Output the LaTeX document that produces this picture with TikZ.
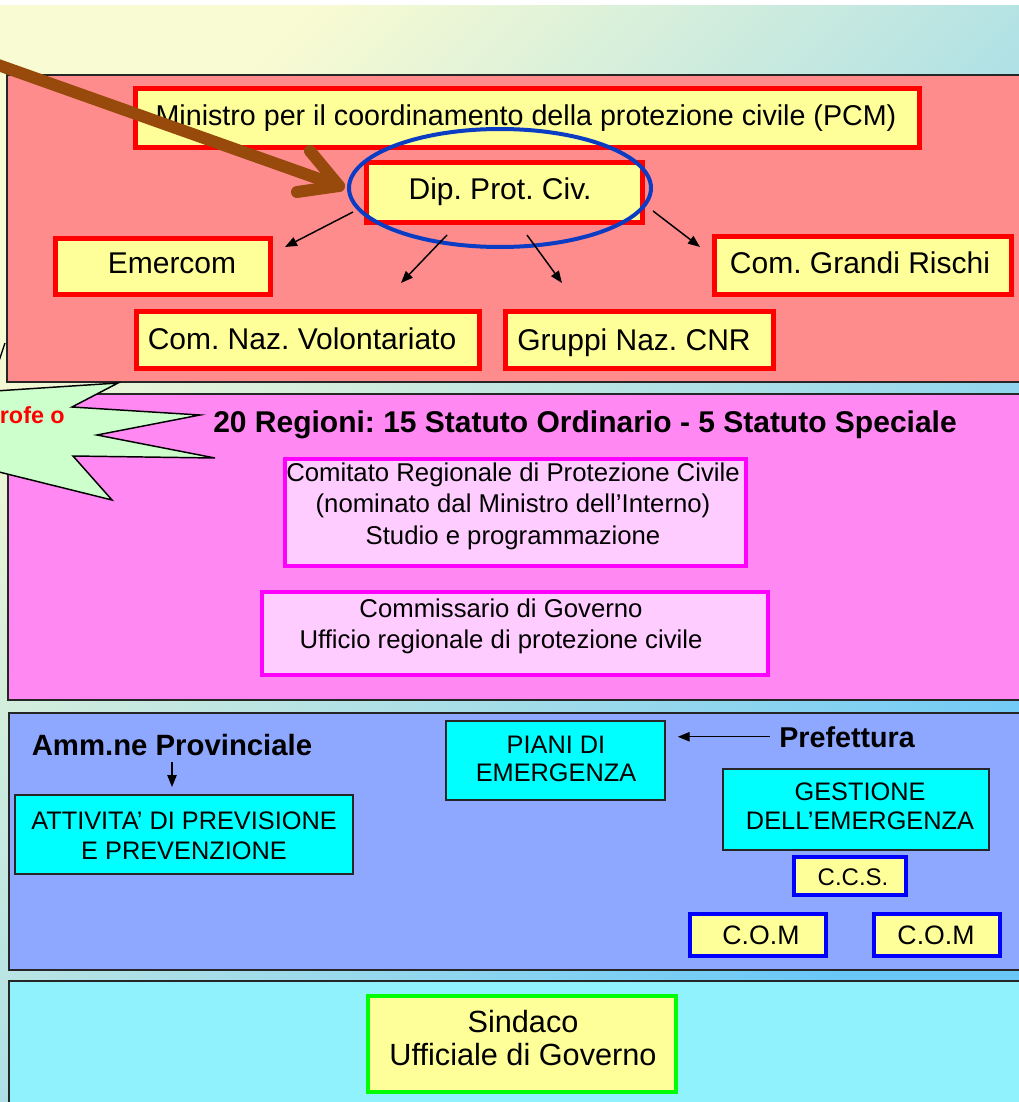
\documentclass[tikz,border=0pt]{standalone}
\usepackage{fontspec}
\setmainfont{Liberation Sans}
\usetikzlibrary{shapes.geometric,arrows.meta,fit}

\definecolor{bgTL}{HTML}{F9FBD2}
\definecolor{bgMid}{HTML}{BCE2E6}
\definecolor{bgBR}{HTML}{6AC8F8}
\definecolor{tierA}{HTML}{FF8C8C}
\definecolor{tierB}{HTML}{FF88F2}
\definecolor{tierC}{HTML}{8FA8FF}
\definecolor{tierD}{HTML}{8FF2FC}
\definecolor{lemon}{HTML}{FFFF99}
\definecolor{blush}{HTML}{FFCCFF}
\definecolor{aqua}{HTML}{00FFFF}
\definecolor{mint}{HTML}{CCFFCC}
\definecolor{rust}{HTML}{984A0C}
\definecolor{ringblue}{HTML}{0A3CC4}
\definecolor{edge}{HTML}{262626}
\definecolor{fuchsia}{HTML}{FF00FF}
\definecolor{pureblue}{HTML}{0000FF}
\definecolor{purered}{HTML}{FF0000}
\definecolor{puregreen}{HTML}{00FF00}

\newcommand\fsz[2]{\fontsize{#1pt}{#2pt}\selectfont}

\begin{document}
\frenchspacing
\begin{tikzpicture}[x=0.75pt,y=-0.75pt,
  tier/.style={draw=edge, line width=1.4pt, inner sep=0pt},
  redbox/.style={draw=purered, line width=3.75pt, fill=lemon, inner sep=0pt},
  magbox/.style={draw=fuchsia, line width=3pt, fill=blush, inner sep=0pt},
  aquabox/.style={draw=edge, line width=1.1pt, fill=aqua, inner sep=0pt},
  bluebox/.style={draw=pureblue, line width=3.6pt, fill=lemon, inner sep=0pt},
  greenbox/.style={draw=puregreen, line width=3.6pt, fill=lemon, inner sep=0pt},
  txt/.style={inner sep=0pt, align=center},
  heading/.style={inner sep=0pt, font=\bfseries\fsz{22.5}{27}},
  thinarrow/.style={draw=black, line width=1.1pt, -{Triangle[length=9pt,width=7pt]}},
  brown stroke/.style={draw=rust, line width=9pt, line cap=round, line join=round},
]
\useasboundingbox (0,0) rectangle (1019,1102);
\clip (0,0) rectangle (1019,1102);

% backdrop
\fill[white] (0,0) rectangle (1019,1102);
\shade[shading=axis, top color=bgTL, middle color=bgMid, bottom color=bgBR, shading angle=45]
  (0,6) rectangle (1019,1102);

% the four tiers
\node[tier, fill=tierA, fit={(7,75) (1030,382)}] (natTier) {};
\node[tier, fill=tierB, fit={(8,394) (1030,700)}] (regTier) {};
\node[tier, fill=tierC, fit={(9,713) (1030,970)}] (provTier) {};
\node[tier, fill=tierD, fit={(9,981) (1030,1120)}] (comTier) {};

% national level
\node[redbox, fit={(135,89) (919,148)}] (ministro) {};
\node[txt, font=\fsz{21.5}{26}] (ministroT) at (526,118) {Ministro per il coordinamento della protezione civile (PCM)};
\node[redbox, fit={(366,163) (642,222)}] (dpc) {};
\node[txt, font=\fsz{22.5}{27}] (dpcT) at (500,192) {Dip. Prot. Civ.};
\node[redbox, fit={(55,238) (270,294)}] (emercom) {};
\node[txt, font=\fsz{22.5}{27}] (emercomT) at (172,263) {Emercom};
\node[redbox, fit={(714,236) (1011,294)}] (rischi) {};
\node[txt, font=\fsz{22.5}{27}] (rischiT) at (860,263) {Com. Grandi Rischi};
\node[redbox, fit={(136,311) (479,368)}] (volont) {};
\node[txt, font=\fsz{22.5}{27}] (volontT) at (302,339) {Com. Naz. Volontariato};
\node[redbox, fit={(505,311) (773,368)}] (cnr) {};
\node[txt, font=\fsz{22.5}{27}] (cnrT) at (634,343) {Gruppi Naz. CNR};

\node[draw=ringblue, line width=3pt, ellipse, inner sep=0pt,
      minimum width=226.5pt, minimum height=88.5pt] (ring) at (500,188) {};

\coordinate (s1) at (353,212); \coordinate (t1) at (285,247);
\coordinate (s2) at (447,235); \coordinate (t2) at (401,283);
\coordinate (s3) at (527,235); \coordinate (t3) at (562,283);
\coordinate (s4) at (653,211); \coordinate (t4) at (700,247);
\draw[thinarrow] (s1) -- (t1);
\draw[thinarrow] (s2) -- (t2);
\draw[thinarrow] (s3) -- (t3);
\draw[thinarrow] (s4) -- (t4);

% regional level
\node[heading, anchor=base] (regioni) at (585,432) {20 Regioni: 15 Statuto Ordinario - 5 Statuto Speciale};
\node[magbox, fit={(285,459) (746,566)}] (comitato) {};
\node[txt, font=\fsz{19.3}{23.6}] (comitatoT) at (513,506)
  {Comitato Regionale di Protezione Civile\\(nominato dal Ministro dell’Interno)\\Studio e programmazione};
\node[magbox, fit={(262,592) (768,675)}] (commissario) {};
\node[txt, font=\fsz{19.3}{23.3}] (commissarioT) at (501,626)
  {Commissario di Governo\\Ufficio regionale di protezione civile};

% provincial level
\node[heading, anchor=base, font=\bfseries\fsz{22}{26}] (amm) at (172,755) {Amm.ne Provinciale};
\node[aquabox, fit={(15,795) (353,874)}] (attiv) {};
\node[txt, font=\fsz{19}{22.5}] (attivT) at (184,836) {ATTIVITA’ DI PREVISIONE\\E PREVENZIONE};
\coordinate (ammTip) at (172,787);
\draw[thinarrow] (172,762) -- (ammTip);

\node[aquabox, fit={(446,721) (665,800)}] (piani) {};
\node[txt, font=\fsz{19}{21}] (pianiT) at (556,759) {PIANI DI\\EMERGENZA};
\node[heading, anchor=base, font=\bfseries\fsz{21.5}{26}] (pref) at (847,747) {Prefettura};
\draw[thinarrow, shorten <=7pt, shorten >=9pt] (pref.west) -- (pref.west -| piani.east);

\node[aquabox, fit={(723,769) (989,850)}] (gestione) {};
\node[txt, font=\fsz{19}{21.8}] (gestioneT) at (860,806) {GESTIONE\\DELL’EMERGENZA};
\node[bluebox, fit={(794,857) (906,895)}] (ccs) {};
\node[txt, font=\fsz{18}{21}] (ccsT) at (853,877) {C.C.S.};
\node[bluebox, fit={(690,914) (826,956)}] (comA) {};
\node[txt, font=\fsz{20}{24}] (comAT) at (761,935) {C.O.M};
\node[bluebox, fit={(874,914) (1000,956)}] (comB) {};
\node[txt, font=\fsz{20}{24}] (comBT) at (936,935) {C.O.M};

% municipal level
\node[greenbox, fit={(368,996) (676,1092)}] (sindaco) {};
\node[txt, font=\fsz{23}{24.75}] (sindacoT) at (523,1038) {Sindaco\\Ufficiale di Governo};

% thick pointer towards the department
\coordinate (bStart) at (-30,55);
\coordinate (bTip) at (339,186);
\coordinate (bBarbA) at (310,151);
\coordinate (bBarbB) at (297,192);
\draw[brown stroke] (bStart) -- (bTip);
\draw[brown stroke] (bBarbA) -- (bTip) -- (bBarbB);

% callout burst on the left edge
\filldraw[fill=mint, draw=black, line width=1.1pt, line join=miter]
  (-5,391) -- (118,383) -- (72,407) -- (200,415) -- (97,435) -- (215,458)
  -- (73,456) -- (112,500) -- (-5,471) -- cycle;
\node[inner sep=0pt, anchor=base east, text=purered, font=\bfseries\fsz{17.5}{21}] (burstT) at (65,423) {rofe o};
\draw[line width=1pt] (-1,361) -- (5,343);
\end{tikzpicture}
\end{document}
